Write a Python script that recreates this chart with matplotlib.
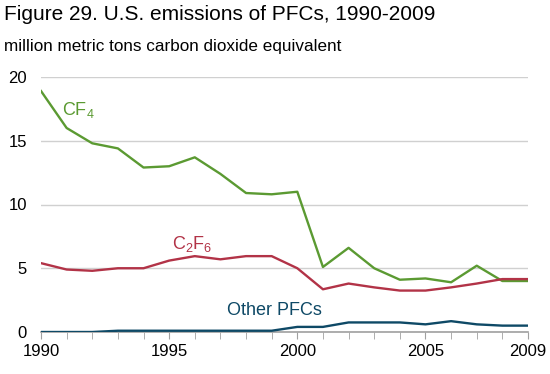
import matplotlib.pyplot as plt
import numpy as np

plt.rcParams['font.family'] = ['Liberation Sans', 'DejaVu Sans']
plt.rcParams['mathtext.fontset'] = 'custom'
plt.rcParams['mathtext.rm'] = 'Liberation Sans'
plt.rcParams['mathtext.it'] = 'Liberation Sans'

years = list(range(1990, 2010))
cf4 = [18.9, 16.0, 14.8, 14.4, 12.9, 13.0, 13.7, 12.4, 10.9, 10.8,
       11.0, 5.1, 6.6, 5.0, 4.1, 4.2, 3.9, 5.2, 4.0, 4.0]
c2f6 = [5.4, 4.9, 4.8, 5.0, 5.0, 5.6, 5.95, 5.7, 5.95, 5.95,
        5.0, 3.35, 3.8, 3.5, 3.25, 3.25, 3.5, 3.8, 4.15, 4.15]
other = [0.0, 0.0, 0.0, 0.1, 0.1, 0.1, 0.1, 0.1, 0.1, 0.1,
         0.4, 0.4, 0.75, 0.75, 0.75, 0.6, 0.85, 0.6, 0.5, 0.5]
xtick_years = [1990, 1995, 2000, 2005, 2009]

green = '#5b9a32'
red = '#b23347'
blue = '#0e4966'

fig = plt.figure(figsize=(5.5, 3.74), dpi=100)
ax = fig.add_axes([41 / 550, 1 - 332 / 374, (528 - 41) / 550, (332 - 77) / 374])

ax.plot(years, cf4, color=green, lw=1.7, zorder=3)
ax.plot(years, c2f6, color=red, lw=1.7, zorder=3)
ax.plot(years, other, color=blue, lw=1.7, zorder=3)

ax.set_xlim(1990, 2009)
ax.set_ylim(0, 20)
ax.set_yticks([0, 5, 10, 15, 20])
ax.set_xticks(xtick_years)
ax.set_xticks(years, minor=True)
ax.grid(axis='y', color='#d0d0d0', lw=1)
ax.set_axisbelow(True)
for s in ['top', 'right', 'left']:
    ax.spines[s].set_visible(False)
ax.spines['bottom'].set_color('#a0a0a0')
ax.spines['bottom'].set_linewidth(1.2)
ax.tick_params(axis='y', length=0, labelsize=12, pad=10)
ax.tick_params(axis='x', which='both', length=5, color='#a0a0a0', labelsize=12, pad=4)
ax.tick_params(axis='x', which='minor', labelbottom=False)

ax.text(1990.82, 17.4, 'CF$_4$', color=green, fontsize=13, va='center', ha='left')
ax.text(1995.1, 6.9, 'C$_2$F$_6$', color=red, fontsize=13, va='center', ha='left')
ax.text(1997.26, 1.7, 'Other PFCs', color=blue, fontsize=13, va='center', ha='left')

fig.text(4 / 550, 1 - 14 / 374, 'Figure 29. U.S. emissions of PFCs, 1990-2009',
         fontsize=15, va='center', ha='left')
fig.text(4 / 550, 1 - 47 / 374, 'million metric tons carbon dioxide equivalent',
         fontsize=12.3, va='center', ha='left')

fig.savefig('out.png', dpi=100)
